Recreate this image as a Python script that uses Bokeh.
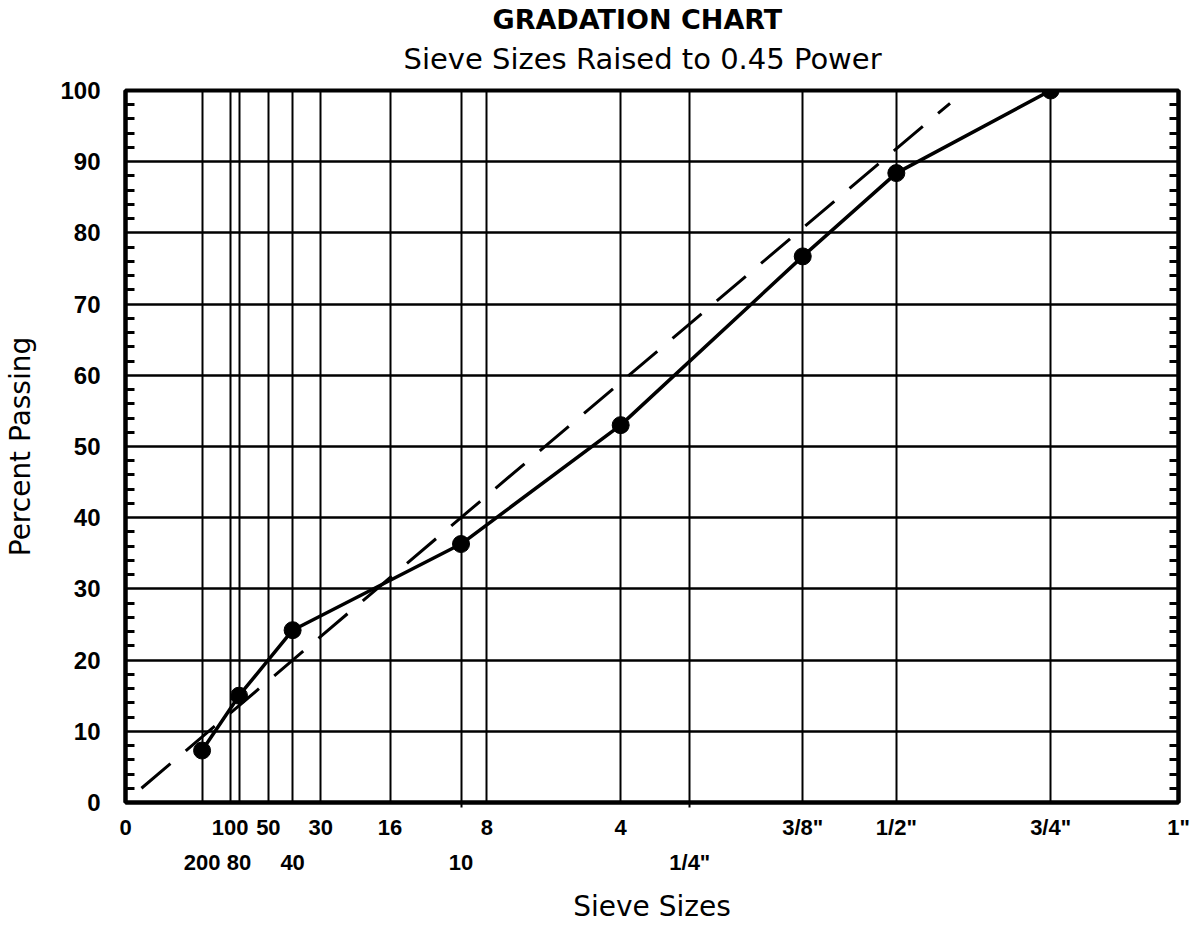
from bokeh.plotting import figure
from bokeh.models import LinearAxis, FixedTicker, Range1d, Title, Grid
from bokeh.embed import file_html
from bokeh.resources import INLINE

POWER = 0.45
FONT = "DejaVu Sans"
TICK_FONT = "Liberation Sans"

# Sieve designations and openings (mm), split into the two label rows
top_row_labels = ["0", "100", "50", "30", "16", "8", "4", '3/8"', '1/2"', '3/4"', '1"']
top_row_mm = [0.0, 0.150, 0.300, 0.600, 1.18, 2.36, 4.75, 9.525, 12.7, 19.05, 25.4]
bottom_row_labels = ["200", "80", "40", "10", '1/4"']
bottom_row_mm = [0.075, 0.180, 0.425, 2.00, 6.35]
# sieves that get a short tick under the axis line
stub_mm = [2.00, 6.35]

# Blend gradation: sieve opening (mm) and percent passing
blend_mm = [0.075, 0.180, 0.425, 2.00, 4.75, 9.525, 12.7, 19.05]
blend_passing = [7.3, 15.0, 24.2, 36.3, 53.0, 76.7, 88.4, 100.0]

# Maximum density line, ends given on the 0.45-power scale
max_density_x = [0.065, 3.357]
max_density_y = [2.0, 98.2]

percent_ticks = list(range(0, 101, 10))
percent_minor = [v for v in range(0, 101, 2) if v % 10]


def to_power(sizes):
    return [round(s ** POWER, 6) for s in sizes]


top_x = to_power(top_row_mm)
bottom_x = to_power(bottom_row_mm)
stub_x = to_power(stub_mm)
blend_x = to_power(blend_mm)

p = figure(
    width=1204, height=925,
    output_backend="svg", toolbar_location=None,
    x_range=Range1d(0, top_x[-1]), y_range=Range1d(0, 100),
    x_axis_location=None, y_axis_location=None,
    min_border_left=125, min_border_right=26,
    min_border_top=90, min_border_bottom=123,
    background_fill_color="white", border_fill_color="white",
)
# drop the default grids; the sieve grid is built below
p.center = []
p.outline_line_color = "black"
p.outline_line_width = 4

# grid: one vertical line per sieve, one horizontal line per 10 %
p.add_layout(Grid(dimension=0, ticker=FixedTicker(ticks=sorted(top_x + bottom_x)),
                  grid_line_color="black", grid_line_width=2))
p.add_layout(Grid(dimension=1, ticker=FixedTicker(ticks=percent_ticks),
                  grid_line_color="black", grid_line_width=2.5))

x_tick_font = dict(major_label_text_font=TICK_FONT, major_label_text_font_size="22px",
                   major_label_text_font_style="bold", major_label_text_color="black")
y_tick_font = dict(major_label_text_font=TICK_FONT, major_label_text_font_size="24px",
                   major_label_text_font_style="bold", major_label_text_color="black")
label_font = dict(axis_label_text_font=FONT, axis_label_text_font_size="28px",
                  axis_label_text_font_style="normal", axis_label_text_color="black")

# x axis, first row of sieve labels
x_top = LinearAxis(
    ticker=FixedTicker(ticks=top_x, minor_ticks=stub_x),
    major_label_overrides={x: t for x, t in zip(top_x, top_row_labels)},
    axis_line_width=4, axis_line_color="black",
    major_tick_line_color=None,
    minor_tick_in=0, minor_tick_out=5, minor_tick_line_width=2,
    minor_tick_line_color="black",
    major_label_standoff=6,
    **x_tick_font,
)
p.add_layout(x_top, "below")

# x axis, second row of sieve labels and the axis title
x_bottom = LinearAxis(
    ticker=FixedTicker(ticks=bottom_x),
    major_label_overrides={x: t for x, t in zip(bottom_x, bottom_row_labels)},
    axis_line_color=None, major_tick_line_color=None, minor_tick_line_color=None,
    major_label_standoff=1,
    axis_label="Sieve Sizes", axis_label_standoff=12,
    **x_tick_font, **label_font,
)
p.add_layout(x_bottom, "below")

# y axis with inward minor ticks every 2 %
y_left = LinearAxis(
    ticker=FixedTicker(ticks=percent_ticks, minor_ticks=percent_minor),
    axis_line_width=4, axis_line_color="black",
    major_tick_line_color=None,
    minor_tick_in=9, minor_tick_out=0, minor_tick_line_width=3,
    minor_tick_line_color="black",
    major_label_standoff=19,
    axis_label="Percent Passing", axis_label_standoff=20,
    **y_tick_font, **label_font,
)
p.add_layout(y_left, "left")

y_right = LinearAxis(
    ticker=FixedTicker(ticks=[], minor_ticks=percent_minor),
    axis_line_width=4, axis_line_color="black",
    major_tick_line_color=None,
    minor_tick_in=9, minor_tick_out=0, minor_tick_line_width=3,
    minor_tick_line_color="black",
)
p.add_layout(y_right, "right")

# titles (the first one added sits next to the plot)
p.add_layout(Title(text="Sieve Sizes Raised to 0.45 Power", align="left", offset=278,
                   text_font=FONT, text_font_size="29px", text_font_style="normal",
                   text_color="black", standoff=30), "above")
p.add_layout(Title(text="GRADATION CHART", align="left", offset=367,
                   text_font=FONT, text_font_size="27px", text_font_style="bold",
                   text_color="black", standoff=-21), "above")

# maximum density line
p.line(max_density_x, max_density_y, line_color="black", line_width=3,
       line_dash="38 20")

# blend gradation
p.line(blend_x, blend_passing, line_color="black", line_width=3.5)
p.scatter(blend_x, blend_passing, size=17, marker="circle",
          fill_color="black", line_color="black")

open("out.html", "w").write(file_html(p, INLINE))
